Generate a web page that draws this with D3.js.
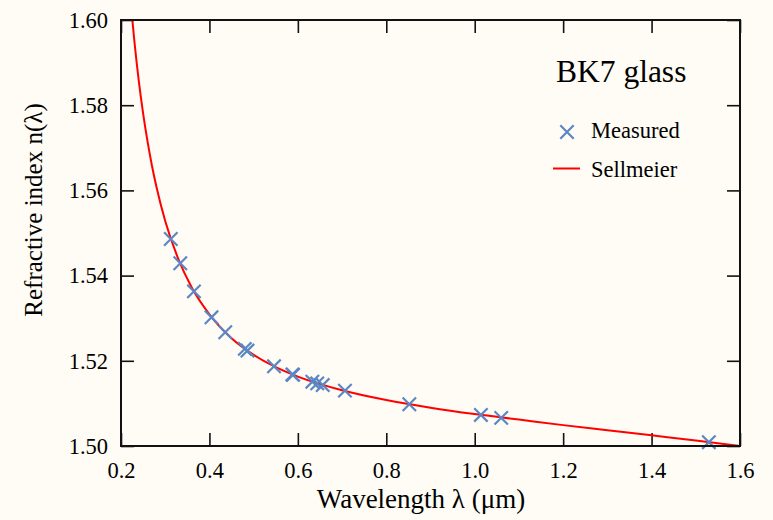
<!DOCTYPE html>
<html>
<head>
<meta charset="utf-8">
<script src="https://cdn.jsdelivr.net/npm/d3@7"></script>
<style>
  body { margin: 0; background: #fefcf4; }
  text { font-family: "Liberation Serif", "Times New Roman", serif; fill: #000; }
</style>
</head>
<body>
<svg id="chart"></svg>
<script>
// measured points (spectral lines), wavelength in um
const measuredLambda = [0.3126, 0.3341, 0.3650, 0.4047, 0.4358, 0.4800, 0.4861, 0.5461, 0.5876, 0.5893, 0.6328, 0.6438, 0.6563, 0.7065, 0.8521, 1.0140, 1.0600, 1.5296];
const measuredN = [1.5486, 1.5429, 1.5363, 1.5302, 1.5267, 1.5228, 1.5224, 1.5187, 1.5168, 1.5167, 1.5151, 1.5147, 1.5143, 1.5130, 1.5098, 1.5073, 1.5066, 1.5009];

// Sellmeier curve
const curveLambda = [0.2257, 0.23, 0.24, 0.25, 0.26, 0.27, 0.28, 0.30, 0.33, 0.36, 0.40, 0.45, 0.50, 0.55, 0.60, 0.70, 0.80, 0.90, 1.0, 1.1, 1.2, 1.3, 1.4, 1.5, 1.6];
const curveN = [1.6000, 1.5953, 1.5859, 1.5781, 1.5715, 1.5658, 1.5609, 1.5528, 1.5438, 1.5372, 1.5309, 1.5253, 1.5214, 1.5185, 1.5163, 1.5131, 1.5108, 1.5090, 1.5075, 1.5062, 1.5049, 1.5037, 1.5025, 1.5013, 1.5000];

const xTicks = [0.2, 0.4, 0.6, 0.8, 1.0, 1.2, 1.4, 1.6];
const yTicks = [1.50, 1.52, 1.54, 1.56, 1.58, 1.60];

const W = 773, H = 520;
const margin = { top: 20, right: 33, bottom: 74, left: 121 };
const width = W - margin.left - margin.right;
const height = H - margin.top - margin.bottom;

const svg = d3.select('#chart').attr('width', W).attr('height', H);
svg.append('rect').attr('width', W).attr('height', H).attr('fill', '#fefcf4');

const g = svg.append('g').attr('transform', `translate(${margin.left},${margin.top})`);

const x = d3.scaleLinear().domain([0.2, 1.6]).range([0, width]);
const y = d3.scaleLinear().domain([1.50, 1.60]).range([height, 0]);

g.append('clipPath').attr('id', 'clip')
  .append('rect').attr('width', width).attr('height', height);

// axes with inward ticks on all sides
const tickLen = 13;
const styleAxis = sel => {
  sel.select('.domain').remove();
  sel.selectAll('.tick line').attr('stroke', '#111').attr('stroke-width', 1.6);
  sel.selectAll('.tick text').style('font-size', '22.5px').attr('fill', '#000');
};

g.append('g').attr('transform', `translate(0,${height})`)
  .call(d3.axisBottom(x).tickValues(xTicks).tickFormat(d3.format('.1f')).tickSizeInner(-tickLen).tickPadding(16))
  .call(styleAxis);
g.append('g')
  .call(d3.axisTop(x).tickValues(xTicks).tickFormat('').tickSizeInner(-tickLen))
  .call(styleAxis);
g.append('g')
  .call(d3.axisLeft(y).tickValues(yTicks).tickFormat(d3.format('.2f')).tickSizeInner(-tickLen).tickPadding(13))
  .call(styleAxis);
g.append('g').attr('transform', `translate(${width},0)`)
  .call(d3.axisRight(y).tickValues(yTicks).tickFormat('').tickSizeInner(-tickLen))
  .call(styleAxis);

// curve
const curve = curveLambda.map((l, i) => ({ l: l, n: curveN[i] }));
const line = d3.line()
  .x(d => x(d.l))
  .y(d => y(d.n))
  .curve(d3.curveMonotoneX);

g.append('path')
  .datum(curve)
  .attr('clip-path', 'url(#clip)')
  .attr('d', line)
  .attr('fill', 'none')
  .attr('stroke', '#ff0000')
  .attr('stroke-width', 2);

// measured X markers
const pts = measuredLambda.map((l, i) => ({ l: l, n: measuredN[i] }));
const s = 6.7;
const cross = `M${-s},${-s}L${s},${s}M${-s},${s}L${s},${-s}`;
g.selectAll('.m')
  .data(pts)
  .enter()
  .append('path')
  .attr('class', 'm')
  .attr('transform', d => `translate(${x(d.l)},${y(d.n)})`)
  .attr('d', cross)
  .attr('stroke', '#5b87c4')
  .attr('stroke-width', 2.2)
  .attr('fill', 'none');

// frame
g.append('rect')
  .attr('width', width)
  .attr('height', height)
  .attr('fill', 'none')
  .attr('stroke', '#111')
  .attr('stroke-width', 2);

// legend
svg.append('text')
  .attr('x', 556)
  .attr('y', 82)
  .style('font-size', '31.5px')
  .text('BK7 glass');

svg.append('path')
  .attr('transform', 'translate(567,132)')
  .attr('d', cross)
  .attr('stroke', '#5b87c4')
  .attr('stroke-width', 2.2)
  .attr('fill', 'none');
svg.append('text').attr('x', 591).attr('y', 138).style('font-size', '22.5px').text('Measured');

svg.append('line')
  .attr('x1', 553).attr('x2', 580).attr('y1', 168.5).attr('y2', 168.5)
  .attr('stroke', '#ff0000').attr('stroke-width', 2);
svg.append('text').attr('x', 591).attr('y', 176.5).style('font-size', '22.5px').text('Sellmeier');

// axis titles
svg.append('text')
  .attr('x', 421)
  .attr('y', 508)
  .style('text-anchor', 'middle')
  .style('font-size', '27px')
  .text('Wavelength λ (μm)');

svg.append('text')
  .attr('transform', 'translate(42,210) rotate(-90)')
  .style('text-anchor', 'middle')
  .style('font-size', '25px')
  .text('Refractive index n(λ)');
</script>
</body>
</html>
